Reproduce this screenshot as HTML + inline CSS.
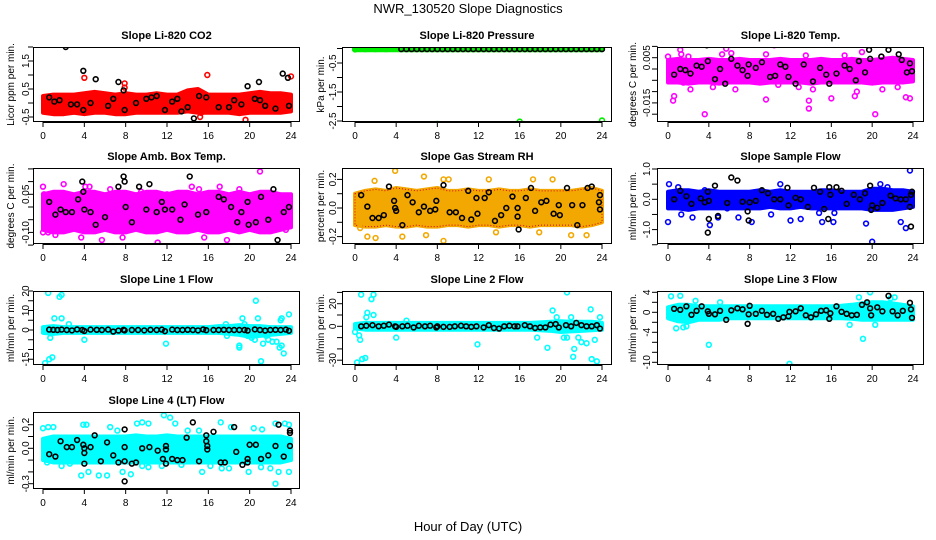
<!DOCTYPE html>
<html><head><meta charset="utf-8"><style>
html,body{margin:0;padding:0;background:#fff;}
svg{display:block;font-family:"Liberation Sans",Arial,sans-serif;}
</style></head><body>
<svg id="chart" width="936" height="540" viewBox="0 0 936 540">
<rect width="936" height="540" fill="#fff"/>
<text x="468" y="13" text-anchor="middle" font-size="13">NWR_130520  Slope Diagnostics</text>
<text x="468" y="531" text-anchor="middle" font-size="13">Hour of Day (UTC)</text>
</svg>
<script>
// ---- data ----
const xTicks=[0,4,8,12,16,20,24];
const bandHours=[0,1,2,3,4,5,6,7,8,9,10,11,12,13,14,15,16,17,18,19,20,21,22,23,24];

const co2Hi=[0.25,0.3,0.3,0.3,0.35,0.4,0.35,0.3,0.35,0.3,0.3,0.35,0.3,0.3,0.45,0.5,0.3,0.3,0.3,0.3,0.35,0.4,0.35,0.35,0.3];
const co2Lo=[-0.35,-0.4,-0.4,-0.35,-0.4,-0.35,-0.35,-0.4,-0.4,-0.35,-0.35,-0.35,-0.35,-0.35,-0.3,-0.35,-0.35,-0.35,-0.35,-0.4,-0.35,-0.35,-0.35,-0.35,-0.3];
const co2Out=[[4,0.9],[7.9,0.7],[7.9,0.55],[15.9,1.0],[15.2,-0.5],[15.3,-0.35],[19.6,-0.6],[24,0.95],[22.5,-0.3]];
const co2Flag=[[2.2,2.0],[3.9,1.15],[5.1,0.85],[7.3,0.75],[7.8,0.45],[3.9,-0.25],[7.9,-0.25],[11.8,-0.25],[13.4,-0.3],[14.6,-0.55],[15.1,0.25],[19.8,0.6],[20.9,0.75],[23.2,1.05],[23.7,0.9],[23.8,-0.1],[0.6,0.2],[1.1,0.05],[1.6,0.1],[2.7,-0.05],[3.3,-0.05],[4.6,0.0],[6.3,-0.1],[6.8,0.15],[9.0,0.0],[10.0,0.15],[10.5,0.2],[11.0,0.25],[12.5,0.05],[13.0,0.15],[14.0,-0.15],[15.8,0.2],[17,-0.15],[18.0,-0.15],[18.5,0.1],[19.2,-0.05],[20.5,0.15],[21.0,0.1],[21.5,-0.1],[22.5,-0.2]];

const presHi=[0.02,0.02,0.02,0.02,0.02,0.02,0.02,0.02,0.02,0.02,0.02,0.02,0.02,0.02,0.02,0.02,0.02,0.02,0.02,0.02,0.02,0.02,0.02,0.02,0.02];
const presLo=[-0.06,-0.06,-0.06,-0.06,-0.06,-0.06,-0.06,-0.06,-0.06,-0.06,-0.06,-0.06,-0.06,-0.06,-0.06,-0.06,-0.06,-0.06,-0.06,-0.06,-0.06,-0.06,-0.06,-0.06,-0.06];
const presOut=[[8,-2.6],[16,-2.52],[24,-2.48],[0,-0.03],[1,-0.02],[2,-0.02],[3,-0.02]];
const presFlag=[[4.5,-0.02],[5,-0.02],[5.5,-0.02],[6,-0.02],[6.5,-0.02],[7,-0.02],[7.5,-0.02],[8,-0.02],[8.5,-0.02],[9,-0.02],[9.5,-0.02],[10,-0.02],[10.5,-0.02],[11,-0.02],[11.5,-0.02],[12,-0.02],[12.5,-0.02],[13,-0.02],[13.5,-0.02],[14,-0.02],[14.5,-0.02],[15,-0.02],[15.5,-0.02],[16,-0.02],[16.5,-0.02],[17,-0.02],[17.5,-0.02],[18,-0.02],[18.5,-0.02],[19,-0.02],[19.5,-0.02],[20,-0.02],[20.5,-0.02],[21,-0.02],[21.5,-0.02],[22,-0.02],[22.5,-0.02],[23,-0.02],[23.5,-0.02],[24,-0.02]];

const tempHi=[0.004,0.0045,0.004,0.004,0.0045,0.004,0.004,0.0045,0.004,0.004,0.004,0.0045,0.004,0.004,0.004,0.0045,0.004,0.004,0.0045,0.004,0.004,0.0045,0.005,0.0045,0.004];
const tempLo=[-0.006,-0.006,-0.0065,-0.006,-0.006,-0.0065,-0.006,-0.006,-0.006,-0.0065,-0.006,-0.006,-0.006,-0.006,-0.0065,-0.006,-0.006,-0.006,-0.006,-0.006,-0.0065,-0.006,-0.006,-0.006,-0.0055];
const tempOut=[[1.2,0.0085],[1.3,0.0065],[0,0.0055],[2,0.0055],[5.3,0.0065],[5.7,0.009],[6.2,0.007],[9.6,0.0065],[10.4,0.0105],[13.5,0.006],[17.3,0.006],[19,0.0075],[0.6,-0.012],[0.5,-0.014],[3.6,-0.02],[9.6,-0.0135],[13.8,-0.014],[13.8,-0.0175],[16,-0.013],[18.3,-0.012],[20.3,-0.02],[23.3,-0.0125],[23.7,-0.013],[1.5,-0.006],[2.2,-0.009],[4.4,-0.008],[6.6,-0.009],[14.2,-0.009],[18.5,-0.01],[21,-0.009],[22.5,-0.008],[10.8,-0.007],[12.8,-0.008]];
const tempFlag=[[3.8,0.0105],[3.9,0.0035],[6.2,0.0045],[9.2,0.003],[19.7,0.0085],[19.8,0.0045],[20.9,0.0055],[21.6,0.0085],[22.6,0.0065],[22.9,0.004],[23.7,0.0025],[0.6,-0.0025],[1.2,0.0],[1.7,-0.0005],[2.2,-0.002],[2.8,0.0015],[3.3,0.001],[4.6,-0.0045],[5.1,0.0],[5.6,-0.0065],[6.8,0.0015],[7.3,-0.0005],[7.9,0.002],[7.8,-0.003],[8.6,0.0005],[10.0,-0.0035],[10.5,-0.003],[11.0,0.002],[11.5,0.001],[11.8,-0.0035],[12.5,-0.0065],[13.3,0.002],[14.2,-0.0055],[14.9,0.0005],[15.5,-0.0025],[15.8,-0.0065],[16.5,-0.002],[17.3,0.0015],[17.8,0.0],[18.7,0.0035],[18.4,-0.005],[19.3,-0.0015],[23.4,-0.0015],[23.9,-0.001]];

const ambHi=[0.05,0.06,0.06,0.05,0.06,0.06,0.05,0.06,0.06,0.05,0.06,0.06,0.05,0.06,0.06,0.05,0.06,0.06,0.05,0.06,0.05,0.06,0.06,0.05,0.05];
const ambLo=[-0.09,-0.1,-0.1,-0.09,-0.1,-0.1,-0.09,-0.1,-0.1,-0.09,-0.1,-0.1,-0.09,-0.1,-0.1,-0.09,-0.1,-0.1,-0.09,-0.1,-0.09,-0.1,-0.1,-0.09,-0.08];
const ambOut=[[0,0.08],[0.1,0.05],[2,0.09],[0,-0.1],[0.5,-0.1],[1.2,-0.11],[2.5,-0.16],[3.7,-0.12],[5.7,-0.13],[7.7,-0.12],[11.1,-0.14],[15.6,-0.12],[17.8,-0.13],[20.6,-0.17],[21,0.14],[14.4,0.08],[15.1,0.07],[17.1,0.08],[19,0.07],[4.1,0.08],[4.5,0.08],[6.5,0.07],[9.5,0.06],[12,0.05],[23.5,-0.09],[21.5,0.03]];
const ambFlag=[[0.6,0.02],[1.2,-0.03],[1.7,-0.01],[2.2,-0.02],[2.8,-0.02],[3.4,0.03],[3.9,0.06],[3.8,0.1],[4.0,-0.01],[4.6,-0.02],[5.1,-0.07],[6.0,-0.04],[7.3,0.08],[7.8,0.12],[7.9,0.1],[8.0,0.0],[8.6,-0.06],[9.3,0.08],[10.0,-0.01],[10.3,0.09],[11.0,-0.02],[11.5,0.02],[11.8,-0.01],[12.5,-0.01],[13.3,-0.05],[13.7,0.01],[14.2,0.12],[15.0,-0.03],[15.8,-0.02],[15.8,-0.18],[17.0,0.04],[17.5,0.03],[18.2,0.0],[18.8,-0.06],[19.2,-0.02],[19.8,0.02],[19.9,-0.07],[20.6,-0.06],[21.1,0.04],[21.8,-0.05],[22.3,0.07],[22.7,-0.13],[23.3,-0.02],[23.8,0.0]];

const rhHi=[0.1,0.12,0.13,0.12,0.14,0.13,0.12,0.13,0.14,0.12,0.12,0.13,0.12,0.12,0.13,0.12,0.12,0.13,0.12,0.12,0.12,0.12,0.13,0.14,0.12];
const rhLo=[-0.12,-0.13,-0.13,-0.12,-0.13,-0.13,-0.12,-0.13,-0.13,-0.12,-0.12,-0.13,-0.12,-0.12,-0.13,-0.12,-0.12,-0.13,-0.12,-0.12,-0.12,-0.12,-0.13,-0.12,-0.1];
const rhOut=[[3.9,0.26],[6.7,0.22],[8.6,-0.23],[4.6,-0.2],[0.5,-0.14],[1.2,-0.2],[2,-0.21],[1.9,0.19],[13,0.2],[17.3,0.2],[19.2,0.2],[21,-0.19],[22.5,-0.19],[8.6,0.2],[9.1,0.2],[6.9,-0.19],[13.7,-0.17],[17.9,-0.17]];
const rhFlag=[[0.6,0.09],[1.2,0.01],[1.7,-0.07],[2.3,-0.07],[2.8,-0.05],[3.3,0.15],[3.8,0.05],[3.9,0.0],[4.0,-0.02],[4.6,-0.12],[5.1,0.09],[5.6,0.04],[6.2,-0.03],[6.7,0.01],[7.3,-0.02],[7.8,-0.01],[7.9,0.05],[8.6,0.16],[9.2,-0.03],[9.8,-0.03],[10.4,-0.07],[11.0,0.12],[11.3,-0.08],[11.8,0.07],[11.9,-0.04],[12.6,0.07],[13.0,0.11],[13.6,-0.09],[14.2,-0.05],[14.7,0.0],[15.3,0.08],[15.8,0.0],[15.8,-0.06],[15.9,-0.15],[16.6,0.07],[17.1,0.14],[17.5,-0.02],[18.1,0.04],[18.6,0.05],[19.3,-0.04],[19.8,0.02],[19.9,-0.05],[20.6,0.14],[21.1,0.02],[21.6,-0.12],[22.1,0.02],[22.6,0.14],[23.0,0.15],[23.7,0.04],[23.8,0.09],[23.8,-0.01]];

const flowHi=[0.25,0.3,0.3,0.25,0.3,0.25,0.25,0.25,0.25,0.3,0.25,0.3,0.25,0.25,0.25,0.3,0.3,0.25,0.25,0.25,0.35,0.35,0.3,0.3,0.25];
const flowLo=[-0.3,-0.3,-0.35,-0.3,-0.3,-0.3,-0.3,-0.3,-0.3,-0.3,-0.25,-0.3,-0.3,-0.25,-0.3,-0.3,-0.3,-0.3,-0.3,-0.3,-0.35,-0.35,-0.35,-0.3,-0.25];
const flowOut=[[0,-0.75],[0.1,0.5],[1.3,-0.5],[2.4,-0.6],[3.6,0.3],[4.1,-0.85],[4.9,-0.6],[5.8,-0.3],[6.9,-0.6],[8.2,-0.75],[10.1,-0.5],[11.0,0.5],[12.0,-0.7],[13.0,-0.65],[14.8,-0.45],[15.1,-0.75],[16.2,-0.75],[16.3,-0.45],[19.4,-0.8],[20.0,-1.4],[20.8,0.5],[22.8,-0.75],[23.3,-0.95],[23.7,0.95],[1.0,0.4],[21.5,0.4]];
const flowFlag=[[0.6,0.0],[1.2,0.28],[1.8,0.1],[2.3,-0.15],[3.2,0.03],[3.6,-0.1],[3.9,0.25],[4.0,-0.05],[4.0,-0.65],[3.9,-1.1],[4.6,0.45],[4.9,-0.55],[5.8,-0.12],[6.2,0.72],[6.8,0.62],[7.3,-0.08],[7.8,-0.4],[7.9,-0.7],[8.0,-0.1],[8.6,-0.05],[9.2,0.3],[9.8,0.2],[10.4,0.0],[11.0,0.0],[11.7,0.38],[11.8,-0.2],[12.5,0.05],[13.0,0.0],[13.7,-0.25],[14.3,0.38],[14.9,0.25],[15.3,-0.32],[15.7,-0.65],[15.8,0.4],[15.9,0.15],[16.5,0.4],[17.0,0.28],[17.5,-0.15],[18.2,0.15],[18.8,0.0],[19.3,0.2],[19.8,0.45],[19.9,-0.35],[20.0,-0.2],[20.5,-0.28],[21.0,-0.12],[21.8,0.12],[22.3,0.03],[22.8,0.0],[23.3,0.0],[23.7,-0.25],[23.8,-0.9],[23.9,0.25],[23.8,0.15]];

const l1Hi=[1.5,2,1.5,1.5,1.5,1.5,1.5,1.5,1.5,1.5,1.5,1.5,1.5,1.5,1.5,1.5,1.5,2,2,2.5,2,2,1.5,1.5,1.5];
const l1Lo=[-1.5,-2,-1.5,-1.5,-1.5,-1.5,-1.5,-1.5,-1.5,-1.5,-1.5,-1.5,-1.5,-1.5,-1.5,-1.5,-1.5,-1.5,-2,-2.5,-3.5,-3,-2.5,-2,-1.5];
const l1Out=[[0.5,19],[1.6,17],[1.8,18],[0.2,-17],[0.6,-15],[0.9,-14],[0.7,-4],[1.1,6],[1.8,6],[2.5,3],[4.0,-5],[11.9,-7],[17.7,3],[17.8,-3],[19.3,6],[19.0,-8],[19.0,-9],[19.5,3],[20.6,15],[20.8,6],[21.1,-16],[21.3,-7],[21.8,-5],[22.2,-6],[22.6,-6],[22.9,-9],[23.1,-8],[23.3,-12],[23.0,5],[23.1,6],[23.8,8],[20.2,-4],[20.5,-5],[19.8,-3],[21.6,-3]];
const l1Flag=[[0.6,0.2],[1,0.1],[1.4,0],[1.8,0.2],[2.3,0],[2.8,-0.2],[3.3,0.3],[3.8,0],[4,-0.5],[4.6,0.2],[5.2,0.1],[5.7,0],[6.3,0.2],[6.8,-0.8],[7.3,-0.3],[7.8,0.1],[7.9,-0.2],[8.6,0],[9.2,0],[9.8,-0.2],[10.4,0.1],[11,0],[11.5,0.2],[11.8,-0.6],[12.5,0.2],[13,0],[13.5,0],[14,0.1],[14.5,0],[15,-0.2],[15.5,0.3],[15.8,-0.1],[16.5,0],[17,0],[17.5,0.1],[18,0],[18.5,0],[19,0],[19.5,0],[19.8,-0.3],[20.5,0.3],[21,0],[21.5,-0.3],[22,0],[22.5,0.1],[23,0],[23.5,0.2],[23.8,-0.4]];

const l2Hi=[2,3,3,3,3,3,3,3,3,3,3,3,3,3,3,3,3,3,3.5,4,4.5,4,4,4,3];
const l2Lo=[-2,-3,-3,-3,-3,-3,-3,-3,-3,-3,-3,-3,-3,-3,-3,-3,-3,-3,-3.5,-4,-5,-4.5,-4,-3.5,-3];
const l2Out=[[0.6,28],[1.6,24],[1.8,28],[0.2,-32],[0.7,-29],[1.0,-28],[0.4,-8],[0.5,-12],[1.1,8],[1.2,12],[1.8,10],[0,-5],[4,-10],[5.0,5],[11.9,-16],[17.7,-10],[18.7,-19],[19.2,14],[19.6,8],[20.6,30],[21.0,8],[21.2,-27],[21.3,-20],[21.7,-10],[22.0,-14],[22.5,-15],[22.9,15],[23.0,-29],[23.3,-12],[23.5,-31],[23.8,8],[20.3,-10],[20.6,-10]];
const l2Flag=[[0.6,0],[1.1,0.5],[1.7,1],[2.3,0],[2.8,0.5],[3.3,1.5],[3.9,0],[4.0,-0.5],[4.6,0],[5.1,0.5],[5.7,-1],[6.2,0.5],[6.8,0],[7.3,0.5],[7.9,-1],[8.0,0],[8.6,-0.5],[9.2,-0.5],[9.7,0],[10.3,0.5],[10.8,0],[11.3,-0.5],[11.8,0],[12.5,-1],[13,1],[13.5,-1.5],[14,-2],[14.5,0],[15,0.5],[15.5,0],[15.8,0],[16.5,1],[17,0],[17.5,-1.5],[18,-1],[18.5,-1],[19,1.5],[19.5,2],[19.8,-1],[20.5,1],[21,0],[21.5,3],[22,1],[22.5,0],[23,0],[23.5,1],[23.8,-2]];

const l3Hi=[1,1.5,1.5,1.2,1.2,1.2,1.2,1.2,1.2,1.2,1.2,1.2,1.2,1.2,1.2,1.2,1.2,1.3,1.5,1.8,2,2,1.8,1.5,1.2];
const l3Lo=[-1.2,-1.8,-2,-1.5,-1.5,-1.5,-1.2,-1.2,-1.2,-1.2,-1.2,-1.2,-1.2,-1.2,-1.2,-1.2,-1.2,-1.2,-1.3,-1.5,-1.5,-1.5,-1.5,-1.5,-1.5];
const l3Out=[[0.3,3.2],[1.2,3.3],[0.8,-3.2],[1.5,-3],[4.0,-6.5],[11.9,-10.3],[19.1,-5.3],[19.8,4],[20.3,-2.5],[2.7,2.3],[5.1,2],[17.8,-2.5],[21.8,2.8],[22.2,3],[18.7,3],[1.8,-2.8]];
const l3Flag=[[0.6,0.7],[1.2,0.5],[1.8,1.2],[2.3,-0.5],[2.8,0.3],[3.3,1.2],[3.9,0.2],[4.0,-0.3],[4.6,-0.4],[5.1,0.3],[5.7,-1.5],[6.2,0.4],[6.8,0.8],[7.3,0.6],[7.8,-2.3],[7.9,-0.4],[8.0,1.3],[8.6,-0.3],[9.2,0.3],[9.7,-0.5],[10.3,-0.3],[10.8,-1.3],[11.3,-1],[11.8,-0.8],[11.9,0.1],[12.5,0.2],[13,0.8],[13.5,-0.6],[14,-1],[14.5,-0.4],[15,0.3],[15.5,0.4],[15.8,-1.3],[15.9,-0.2],[16.5,1.2],[17,0.1],[17.5,-0.3],[18,-0.6],[18.5,-0.5],[19,1.5],[19.5,2],[19.8,0.8],[19.9,-0.6],[20.5,1],[21,0.2],[21.6,3.3],[22,0.2],[22.5,-0.6],[23,0.3],[23.7,1.9],[23.8,0.6],[23.9,-1.1]];

const l4Hi=[0.08,0.1,0.1,0.1,0.1,0.1,0.1,0.1,0.1,0.11,0.1,0.1,0.11,0.1,0.1,0.1,0.1,0.1,0.1,0.1,0.1,0.1,0.1,0.1,0.08];
const l4Lo=[-0.1,-0.12,-0.12,-0.12,-0.12,-0.12,-0.12,-0.12,-0.12,-0.12,-0.12,-0.12,-0.12,-0.12,-0.12,-0.12,-0.12,-0.12,-0.12,-0.12,-0.12,-0.12,-0.12,-0.12,-0.1];
const l4Out=[[0,0.17],[0.5,0.18],[1,0.18],[3.9,0.2],[4.2,0.2],[6.5,0.18],[7.2,0.15],[9.1,0.21],[9.6,0.22],[10.2,0.21],[11.7,0.28],[12.3,0.26],[12.8,0.21],[14.0,0.15],[15.1,0.15],[17.2,0.22],[18.2,0.18],[20.4,0.17],[21.2,0.16],[22.5,0.21],[23.4,0.21],[23.8,0.2],[1.8,-0.15],[3.7,-0.23],[4.4,-0.2],[5.4,-0.23],[6.2,-0.23],[7.7,-0.2],[8.5,-0.22],[9.6,-0.15],[10.2,-0.16],[11.5,-0.15],[15.4,-0.2],[16.2,-0.15],[18.0,-0.17],[19.9,-0.2],[22.0,-0.17],[22.5,-0.3],[22.8,-0.2],[23.8,-0.2],[0.4,-0.12],[2.6,-0.13],[13.4,-0.14],[17.3,-0.17],[21.1,-0.16]];
const l4Flag=[[0.6,-0.05],[1.2,-0.07],[1.7,0.06],[2.3,0.01],[2.8,0.01],[3.3,0.07],[3.9,0.03],[4.0,0.0],[4.0,-0.04],[4.0,-0.13],[4.6,0.01],[5.0,0.11],[5.6,-0.11],[6.2,0.05],[6.8,-0.06],[7.3,-0.12],[7.9,0.01],[7.9,0.16],[7.9,-0.11],[7.9,-0.28],[8.6,-0.13],[9.0,-0.12],[9.6,0.0],[10.3,0.01],[11.1,-0.02],[11.6,-0.09],[11.9,-0.13],[11.9,0.02],[11.9,-0.01],[12.5,-0.09],[13.0,-0.1],[13.5,-0.1],[13.9,0.09],[14.5,0.22],[15.1,-0.11],[15.8,0.11],[15.9,0.02],[15.9,-0.01],[15.8,0.06],[16.5,0.14],[17.2,-0.12],[17.6,-0.12],[18.5,0.18],[18.7,-0.03],[19.3,-0.14],[19.8,-0.12],[19.8,-0.09],[20.0,0.03],[20.6,0.03],[21.1,-0.09],[21.8,-0.06],[22.5,0.02],[22.8,0.2],[23.3,-0.07],[23.9,0.15],[23.9,0.13],[23.9,0.02]];

const co2Ticks=[-0.5,0,0.5,1,1.5,2], co2Labels=["-0.5","","0.5","","1.5",""];
const presTicks=[-2.5,-2,-1.5,-1,-0.5,0], presLabels=["-2.5","","-1.5","","-0.5",""];
const tempTicks=[-0.02,-0.015,-0.01,-0.005,0,0.005,0.01], tempLabels=["","-0.015","","","","0.005",""];
const ambTicks=[-0.15,-0.1,-0.05,0,0.05,0.1,0.15], ambLabels=["","-0.10","","","0.05","",""];
const rhTicks=[-0.2,-0.1,0,0.1,0.2], rhLabels=["-0.2","","0.0","","0.2"];
const flowTicks=[-1.5,-1,-0.5,0,0.5,1], flowLabels=["","-1.0","","0.0","","1.0"];
const l1Ticks=[-15,-10,-5,0,5,10,15,20], l1Labels=["-15","","","0","","10","","20"];
const l2Ticks=[-30,-20,-10,0,10,20,30], l2Labels=["-30","","","0","","20",""];
const l3Ticks=[-10,-8,-6,-4,-2,0,2,4], l3Labels=["-10","","","-4","","0","","4"];
const l4Ticks=[-0.3,-0.2,-0.1,0,0.1,0.2], l4Labels=["-0.3","","","0.0","","0.2"];

// ---- layout ----
const cols=[{l:33,r:300,x0:43,x24:291,lab:29,tt:14},{l:342,r:612,x0:355,x24:602,lab:336,tt:324},{l:657,r:924,x0:668,x24:913,lab:650,tt:636}];
const rows=[{t:47,b:122},{t:168,b:244},{t:291,b:365},{t:412,b:489}];
const panels=[
 {name:"co2",title:"Slope Li-820 CO2",ylab:"Licor ppm per min.",c:0,r:0,z:103,k:28,col:"#ff0000",hi:co2Hi,lo:co2Lo,out:co2Out,flag:co2Flag,ticks:co2Ticks,labels:co2Labels},
 {name:"pressure",title:"Slope Li-820 Pressure",ylab:"kPa per min.",c:1,r:0,z:48.5,k:29,col:"#00ee00",hi:presHi,lo:presLo,out:presOut,flag:presFlag,ticks:presTicks,labels:presLabels},
 {name:"temp",title:"Slope Li-820 Temp.",ylab:"degrees C per min.",c:2,r:0,z:69,k:2260,col:"#ff00ff",hi:tempHi,lo:tempLo,out:tempOut,flag:tempFlag,ticks:tempTicks,labels:tempLabels},
 {name:"amb-box-temp",title:"Slope Amb. Box Temp.",ylab:"degrees C per min.",c:0,r:1,z:207,k:254,col:"#ff00ff",hi:ambHi,lo:ambLo,out:ambOut,flag:ambFlag,ticks:ambTicks,labels:ambLabels},
 {name:"gas-stream-rh",title:"Slope Gas Stream RH",ylab:"percent per min.",c:1,r:1,z:208,k:143,col:"#f2a800",hi:rhHi,lo:rhLo,out:rhOut,flag:rhFlag,ticks:rhTicks,labels:rhLabels},
 {name:"sample-flow",title:"Slope Sample Flow",ylab:"ml/min per min.",c:2,r:1,z:199.3,k:30.3,col:"#0000ff",hi:flowHi,lo:flowLo,out:flowOut,flag:flowFlag,ticks:flowTicks,labels:flowLabels},
 {name:"line1-flow",title:"Slope Line 1 Flow",ylab:"ml/min per min.",c:0,r:2,z:330,k:1.95,col:"#00ffff",hi:l1Hi,lo:l1Lo,out:l1Out,flag:l1Flag,ticks:l1Ticks,labels:l1Labels},
 {name:"line2-flow",title:"Slope Line 2 Flow",ylab:"ml/min per min.",c:1,r:2,z:326.3,k:1.13,col:"#00ffff",hi:l2Hi,lo:l2Lo,out:l2Out,flag:l2Flag,ticks:l2Ticks,labels:l2Labels},
 {name:"line3-flow",title:"Slope Line 3 Flow",ylab:"ml/min per min.",c:2,r:2,z:312.3,k:5.0,col:"#00ffff",hi:l3Hi,lo:l3Lo,out:l3Out,flag:l3Flag,ticks:l3Ticks,labels:l3Labels},
 {name:"line4-flow",title:"Slope Line 4 (LT) Flow",ylab:"ml/min per min.",c:0,r:3,z:448.3,k:118,col:"#00ffff",hi:l4Hi,lo:l4Lo,out:l4Out,flag:l4Flag,ticks:l4Ticks,labels:l4Labels}
];
const NS="http://www.w3.org/2000/svg";
const svg=document.getElementById("chart");
function mk(tag,attrs,parent){const e=document.createElementNS(NS,tag);for(const a in attrs)e.setAttribute(a,attrs[a]);(parent||svg).appendChild(e);return e;}

panels.forEach(p=>{
 const C=cols[p.c],R=rows[p.r];
 const xs=h=>C.x0+(C.x24-C.x0)*h/24;
 const ys=v=>p.z-v*p.k;
 const g=mk("g",{});
 
 
 const t=mk("text",{x:(C.l+C.r)/2,y:R.t-8,"text-anchor":"middle","font-size":"11","font-weight":"bold"},g);
 t.textContent=p.title;
 
 
 const ym=(R.t+R.b)/2;
 const yl=mk("text",{x:C.tt,y:ym,"text-anchor":"middle","font-size":"10",transform:`rotate(-90 ${C.tt} ${ym})`},g);
 yl.textContent=p.ylab;
 
 
 const cid="clip-"+p.name;
 const cp=mk("clipPath",{id:cid},g);
 mk("rect",{x:C.l,y:R.t,width:C.r-C.l,height:R.b-R.t},cp);
 const plot=mk("g",{"clip-path":`url(#${cid})`},g);
 
 
 let pts=bandHours.map((h,i)=>xs(h)+","+ys(p.hi[i]));
 pts=pts.concat(bandHours.slice().reverse().map((h,j)=>{const i=bandHours.length-1-j;return xs(h)+","+ys(p.lo[i]);}));
 const band=mk("polygon",{points:pts.join(" "),fill:p.col,stroke:p.col,"stroke-width":"4","stroke-linejoin":"round"},plot);
 
 
 if(p.name==="gas-stream-rh"){
  const dots=mk("polygon",{points:pts.join(" "),fill:"none",stroke:"#e00000","stroke-width":"1","stroke-dasharray":"1 2"},plot);
  
  
 }
 p.out.forEach(d=>{
  const c=mk("circle",{cx:xs(d[0]),cy:ys(d[1]),r:2.4,fill:"none",stroke:p.col,"stroke-width":"1.6"},plot);
  
  
 });
 p.flag.forEach(d=>{
  const c=mk("circle",{cx:xs(d[0]),cy:ys(d[1]),r:2.4,fill:"none",stroke:"#000","stroke-width":"1.6"},plot);
  
  
 });
 const fr=mk("rect",{x:C.l+0.5,y:R.t+0.5,width:C.r-C.l-1,height:R.b-R.t-1,fill:"none",stroke:"#000","stroke-width":"1"},g);
 
 
 const xa=mk("g",{},g);
 
 
 mk("line",{x1:xs(xTicks[0]),x2:xs(xTicks[xTicks.length-1]),y1:R.b+0.5,y2:R.b+0.5,stroke:"#000"},xa);
 xTicks.forEach(h=>{
  mk("line",{x1:xs(h),x2:xs(h),y1:R.b,y2:R.b+5,stroke:"#000"},xa);
  const tl=mk("text",{x:xs(h),y:R.b+17,"text-anchor":"middle","font-size":"10"},xa);
  tl.textContent=String(h);
  
  
 });
 const ya=mk("g",{},g);
 
 
 mk("line",{x1:C.l+0.5,x2:C.l+0.5,y1:ys(p.ticks[0]),y2:ys(p.ticks[p.ticks.length-1]),stroke:"#000"},ya);
 p.ticks.forEach((v,i)=>{
  const y=ys(v);
  mk("line",{x1:C.l-5,x2:C.l,y1:y,y2:y,stroke:"#000"},ya);
  if(p.labels[i]){
   const lx=C.lab;
   const tl=mk("text",{x:lx,y:y,"text-anchor":"middle","font-size":"10",transform:`rotate(-90 ${lx} ${y})`},ya);
   tl.textContent=p.labels[i];
   
   
  }
 });
});
</script>
</body></html>
